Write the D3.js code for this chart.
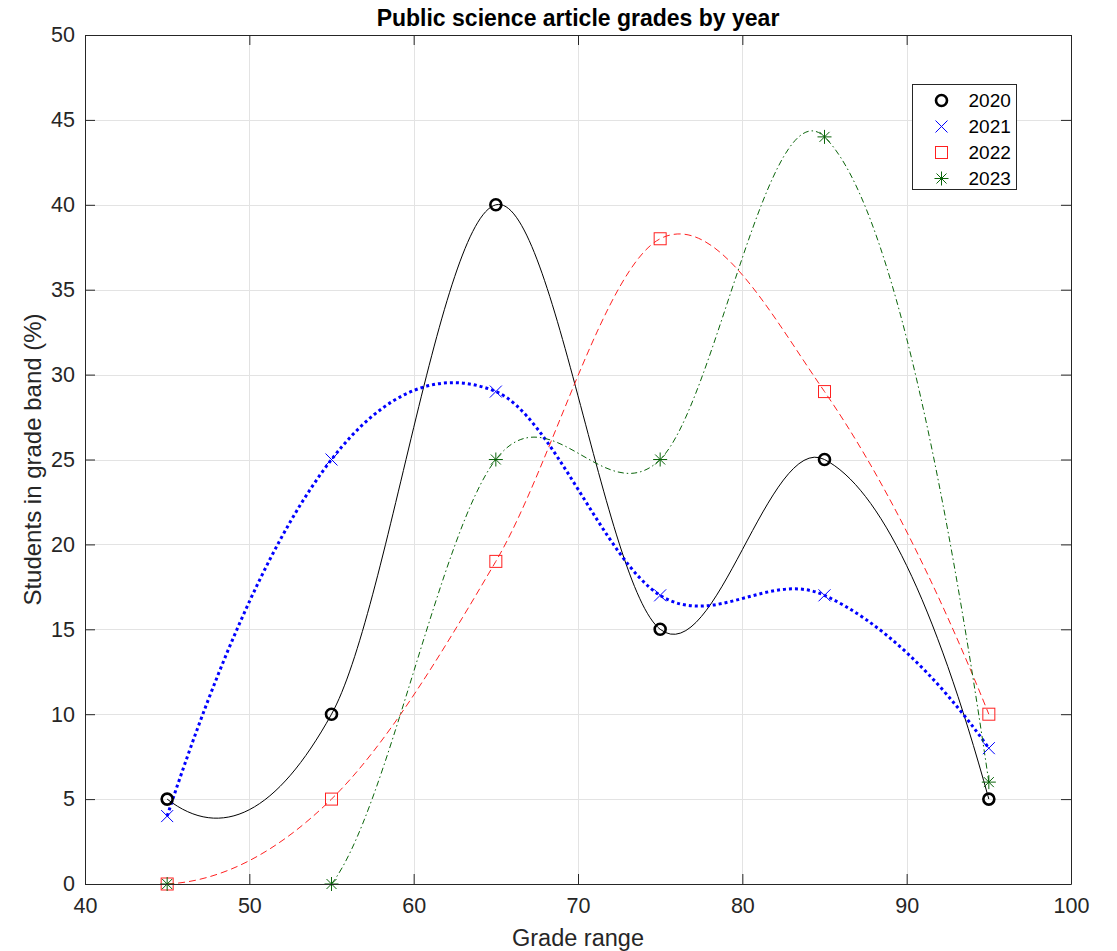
<!DOCTYPE html>
<html>
<head>
<meta charset="utf-8">
<script src="https://cdn.jsdelivr.net/npm/d3@7"></script>
<style>
    body { margin: 0; background: #fff; }
    text { font-family: "Liberation Sans", Arial, sans-serif; }
</style>
</head>
<body>
<div id="chart"></div>
<script>
"use strict";

const WIDTH = 1117;
const HEIGHT = 951;
const MARGIN = { top: 35, right: 46, bottom: 67, left: 85 };

const gradeBands = [45, 55, 65, 75, 85, 95];
const years = ["2020", "2021", "2022", "2023"];
const grades2020 = [5, 10, 40, 15, 25, 5];
const grades2021 = [4, 25, 29, 17, 17, 8];
const grades2022 = [0, 5, 19, 38, 29, 10];
const grades2023 = [0, 0, 25, 25, 44, 6];

const xTicks = [40, 50, 60, 70, 80, 90, 100];
const yTicks = [0, 5, 10, 15, 20, 25, 30, 35, 40, 45, 50];

const seriesStyles = {
    "2020": { color: "#000000", width: 1, dash: null, marker: "circle" },
    "2021": { color: "#0000ff", width: 3, dash: "3 3", marker: "cross" },
    "2022": { color: "#ff2020", width: 1, dash: "7 4", marker: "square" },
    "2023": { color: "#0a640a", width: 1, dash: "6 3 1.5 3", marker: "star" }
};

render(d3.select("#chart"));

function render(container) {
    const svg = container.append("svg")
        .attr("width", WIDTH)
        .attr("height", HEIGHT);

    const innerWidth = WIDTH - MARGIN.left - MARGIN.right;
    const innerHeight = HEIGHT - MARGIN.top - MARGIN.bottom;

    const x = d3.scaleLinear().domain([40, 100]).range([0, innerWidth]);
    const y = d3.scaleLinear().domain([0, 50]).range([innerHeight, 0]);

    const plot = svg.append("g")
        .attr("transform", `translate(${MARGIN.left},${MARGIN.top})`);

    renderGrid(plot, x, y, innerWidth, innerHeight);

    plot.append("clipPath")
        .attr("id", "plot-clip")
        .append("rect")
        .attr("width", innerWidth)
        .attr("height", innerHeight);

    const series = [grades2020, grades2021, grades2022, grades2023].map((values, index) => ({
        year: years[index],
        points: gradeBands.map((band, i) => [band, values[i]])
    }));

    const line = d3.line()
        .x(d => x(d[0]))
        .y(d => y(d[1]))
        .curve(curveFiniteDifference);

    const lines = plot.append("g").attr("clip-path", "url(#plot-clip)");

    series.forEach(s => {
        const style = seriesStyles[s.year];
        lines.append("path")
            .attr("d", line(s.points))
            .attr("fill", "none")
            .attr("stroke", style.color)
            .attr("stroke-width", style.width)
            .attr("stroke-dasharray", style.dash);
    });

    series.forEach(s => {
        s.points.forEach(p => {
            drawMarker(plot, seriesStyles[s.year], x(p[0]), y(p[1]));
        });
    });

    renderAxes(plot, x, y, innerWidth, innerHeight);
    renderLegend(svg);

    svg.append("text")
        .attr("x", MARGIN.left + innerWidth / 2)
        .attr("y", 26)
        .attr("text-anchor", "middle")
        .attr("font-size", 23)
        .attr("font-weight", "bold")
        .attr("fill", "#000")
        .text("Public science article grades by year");

    svg.append("text")
        .attr("x", MARGIN.left + innerWidth / 2)
        .attr("y", 946)
        .attr("text-anchor", "middle")
        .attr("font-size", 23.5)
        .attr("fill", "#262626")
        .text("Grade range");

    svg.append("text")
        .attr("transform", `translate(41,${MARGIN.top + innerHeight / 2}) rotate(-90)`)
        .attr("text-anchor", "middle")
        .attr("font-size", 24)
        .attr("fill", "#262626")
        .text("Students in grade band (%)");
}

function renderGrid(plot, x, y, innerWidth, innerHeight) {
    const grid = plot.append("g").attr("stroke", "#e3e3e3").attr("stroke-width", 1);

    grid.selectAll(".vgrid")
        .data(xTicks.slice(1, -1))
        .enter()
        .append("line")
        .attr("x1", d => Math.round(x(d)) + 0.5)
        .attr("x2", d => Math.round(x(d)) + 0.5)
        .attr("y1", 0)
        .attr("y2", innerHeight);

    grid.selectAll(".hgrid")
        .data(yTicks.slice(1, -1))
        .enter()
        .append("line")
        .attr("y1", d => Math.round(y(d)) + 0.5)
        .attr("y2", d => Math.round(y(d)) + 0.5)
        .attr("x1", 0)
        .attr("x2", innerWidth);
}

function renderAxes(plot, x, y, innerWidth, innerHeight) {
    const tickLength = 10;

    // Bottom and left axes carry the labels, top and right only mirror the ticks
    const bottom = plot.append("g")
        .attr("transform", `translate(0,${innerHeight})`)
        .call(d3.axisBottom(x).tickValues(xTicks).tickSizeInner(-tickLength).tickSizeOuter(0).tickPadding(14));

    const left = plot.append("g")
        .call(d3.axisLeft(y).tickValues(yTicks).tickSizeInner(-tickLength).tickSizeOuter(0).tickPadding(10));

    plot.append("g")
        .call(d3.axisTop(x).tickValues(xTicks).tickSizeInner(-tickLength).tickSizeOuter(0).tickFormat(""));

    plot.append("g")
        .attr("transform", `translate(${innerWidth},0)`)
        .call(d3.axisRight(y).tickValues(yTicks).tickSizeInner(-tickLength).tickSizeOuter(0).tickFormat(""));

    plot.selectAll(".domain, .tick line")
        .attr("stroke", "#262626")
        .attr("stroke-width", 1);

    [bottom, left].forEach(axis => {
        axis.selectAll(".tick text")
            .attr("font-size", 21.5)
            .attr("font-family", "\"Liberation Sans\", Arial, sans-serif")
            .attr("fill", "#262626");
    });
}

function renderLegend(svg) {
    const legend = svg.append("g").attr("transform", "translate(912.5,84.5)");

    legend.append("rect")
        .attr("width", 104)
        .attr("height", 105)
        .attr("fill", "#fff")
        .attr("stroke", "#262626")
        .attr("stroke-width", 1);

    years.forEach((year, index) => {
        const rowY = 16 + index * 26;
        drawMarker(legend, seriesStyles[year], 29, rowY);
        legend.append("text")
            .attr("x", 56)
            .attr("y", rowY)
            .attr("dy", "0.36em")
            .attr("font-size", 19)
            .attr("fill", "#000")
            .text(year);
    });
}

function drawMarker(container, style, cx, cy) {
    const g = container.append("g")
        .attr("transform", `translate(${cx},${cy})`)
        .attr("fill", "none")
        .attr("stroke", style.color);

    if (style.marker === "circle") {
        g.append("circle").attr("r", 5.5).attr("stroke-width", 2.6);
    } else if (style.marker === "cross") {
        g.append("path").attr("d", "M-6,-6L6,6M-6,6L6,-6").attr("stroke-width", 1);
    } else if (style.marker === "square") {
        g.append("rect")
            .attr("x", -6).attr("y", -6)
            .attr("width", 12).attr("height", 12)
            .attr("stroke-width", 1);
    } else if (style.marker === "star") {
        g.append("path")
            .attr("d", "M-7,0L7,0M0,-7L0,7M-5,-5L5,5M-5,5L5,-5")
            .attr("stroke-width", 1);
    }
}

// Cubic Hermite curve: central-difference tangents inside,
// three-point one-sided tangents at both ends
function curveFiniteDifference(context) {
    let xs = [];
    let ys = [];
    return {
        areaStart() {},
        areaEnd() {},
        lineStart() { xs = []; ys = []; },
        point(px, py) { xs.push(+px); ys.push(+py); },
        lineEnd() {
            const n = xs.length;
            if (n === 0) return;
            context.moveTo(xs[0], ys[0]);
            if (n < 3) {
                for (let i = 1; i < n; i++) context.lineTo(xs[i], ys[i]);
                return;
            }
            const m = tangents(xs, ys);
            for (let i = 0; i < n - 1; i++) {
                const h = xs[i + 1] - xs[i];
                context.bezierCurveTo(
                    xs[i] + h / 3, ys[i] + m[i] * h / 3,
                    xs[i + 1] - h / 3, ys[i + 1] - m[i + 1] * h / 3,
                    xs[i + 1], ys[i + 1]
                );
            }
        }
    };
}

function tangents(xs, ys) {
    const n = xs.length;
    const m = new Array(n);
    for (let i = 1; i < n - 1; i++) {
        m[i] = (ys[i + 1] - ys[i - 1]) / (xs[i + 1] - xs[i - 1]);
    }
    const h0 = xs[1] - xs[0];
    m[0] = (-3 * ys[0] + 4 * ys[1] - ys[2]) / (2 * h0);
    const h1 = xs[n - 1] - xs[n - 2];
    m[n - 1] = (3 * ys[n - 1] - 4 * ys[n - 2] + ys[n - 3]) / (2 * h1);
    return m;
}
</script>
</body>
</html>
